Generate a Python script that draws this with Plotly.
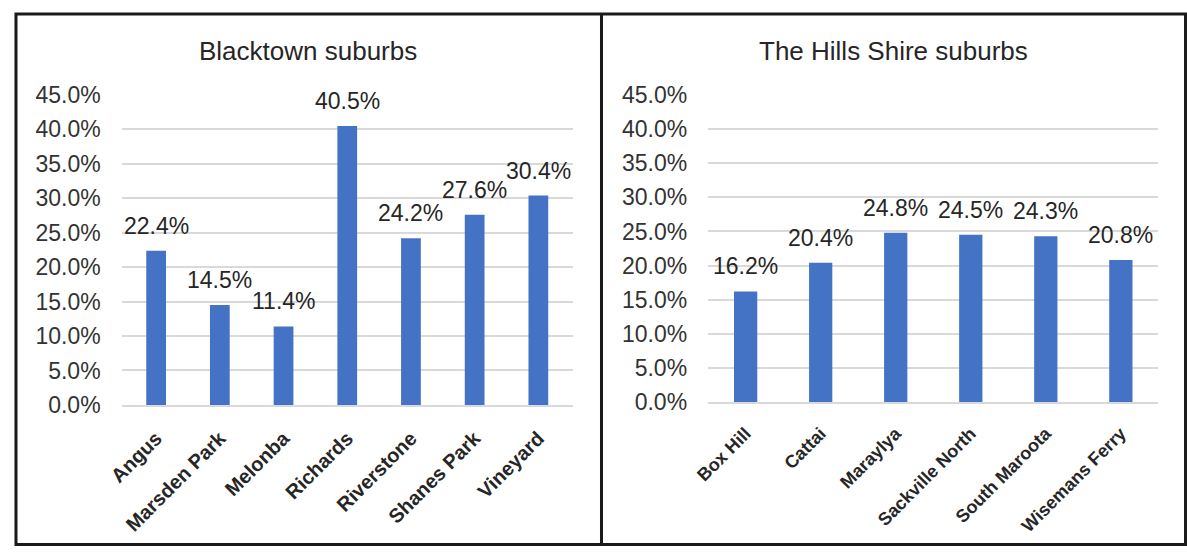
import plotly.graph_objects as go

# Share of each suburb (%), two council areas
blacktown_suburbs = ["Angus", "Marsden Park", "Melonba", "Richards",
                     "Riverstone", "Shanes Park", "Vineyard"]
blacktown_values = [22.4, 14.5, 11.4, 40.5, 24.2, 27.6, 30.4]

hills_suburbs = ["Box Hill", "Cattai", "Maraylya", "Sackville North",
                 "South Maroota", "Wisemans Ferry"]
hills_values = [16.2, 20.4, 24.8, 24.5, 24.3, 20.8]

y_ticks = [0, 5, 10, 15, 20, 25, 30, 35, 40, 45]

W, H = 1187, 559
FONT = "Liberation Sans, Arial, sans-serif"
BAR = "#4472C4"
GRID = "#d9d9d9"
TXT = "#262626"

fig = go.Figure()
fig.add_trace(go.Bar(x=blacktown_suburbs, y=blacktown_values, width=0.31,
                     marker=dict(color=BAR, line=dict(width=0)),
                     xaxis="x", yaxis="y", hoverinfo="x+y"))
fig.add_trace(go.Bar(x=hills_suburbs, y=hills_values, width=0.31,
                     marker=dict(color=BAR, line=dict(width=0)),
                     xaxis="x2", yaxis="y2", hoverinfo="x+y"))

annotations = []
# value labels above each bar
for cats, vals, xr, yr in [(blacktown_suburbs, blacktown_values, "x", "y"),
                           (hills_suburbs, hills_values, "x2", "y2")]:
    for c, v in zip(cats, vals):
        annotations.append(dict(x=c, y=v, xref=xr, yref=yr, text=f"{v:.1f}%",
                                showarrow=False, xanchor="center",
                                yanchor="bottom", yshift=10,
                                font=dict(family=FONT, size=23, color=TXT)))

# panel titles
annotations.append(dict(x=297 / W, y=1 - 40 / H, xref="paper", yref="paper",
                        text="Blacktown suburbs", showarrow=False,
                        xanchor="center", yanchor="middle",
                        font=dict(family=FONT, size=26, color=TXT)))
annotations.append(dict(x=890 / W, y=1 - 40 / H, xref="paper", yref="paper",
                        text="The Hills Shire suburbs", showarrow=False,
                        xanchor="center", yanchor="middle",
                        font=dict(family=FONT, size=26, color=TXT)))

yax = dict(range=[0, 45], tickvals=y_ticks,
           ticktext=[f"{t:.1f}%" for t in y_ticks],
           showgrid=True, gridcolor=GRID, gridwidth=1.5, zeroline=False,
           showline=False, ticks="", ticklabelstandoff=20,
           tickfont=dict(family=FONT, size=23, color="#333333"),
           fixedrange=True)

xax_common = dict(showgrid=False, zeroline=False, showline=True,
                  linecolor=GRID, linewidth=2, ticks="", tickangle=-45,
                  ticklabelstandoff=12, fixedrange=True)

fig.update_layout(
    width=W, height=H,
    margin=dict(l=0, r=0, t=0, b=0),
    paper_bgcolor="white", plot_bgcolor="white",
    showlegend=False,
    xaxis=dict(domain=[108 / W, 565 / W], anchor="y",
               tickfont=dict(family=FONT, size=20, color=TXT, weight="bold"),
               **xax_common),
    yaxis=dict(domain=[1 - 411 / H, 1 - 86 / H], anchor="x", **yax),
    xaxis2=dict(domain=[702 / W, 1158 / W], anchor="y2",
                tickfont=dict(family=FONT, size=18, color=TXT, weight="bold"),
                **xax_common),
    yaxis2=dict(domain=[1 - 408 / H, 1 - 86 / H], anchor="x2", **yax),
    annotations=annotations,
    shapes=[
        dict(type="rect", xref="paper", yref="paper",
             x0=1 / W, x1=1 - 1.5 / W, y0=1.5 / H, y1=1 - 1 / H,
             line=dict(color="#1a1a1a", width=3), fillcolor="rgba(0,0,0,0)"),
        dict(type="line", xref="paper", yref="paper",
             x0=594 / W, x1=594 / W, y0=0, y1=1,
             line=dict(color="#1a1a1a", width=3)),
    ],
)

fig.write_html("out.html",
               post_script="document.body.style.margin='0';")
